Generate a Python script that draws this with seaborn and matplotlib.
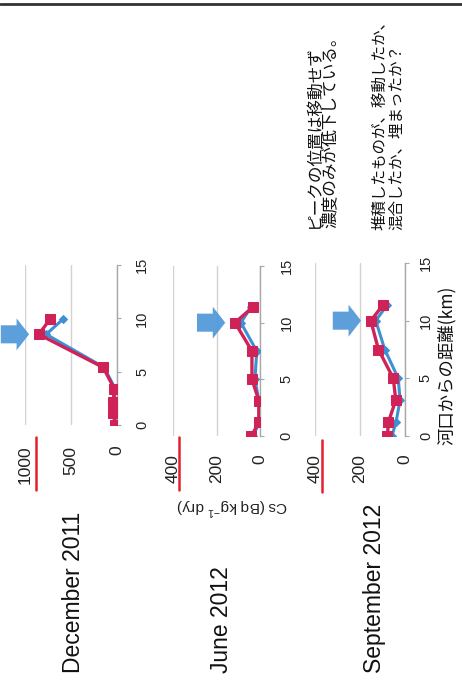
import matplotlib
matplotlib.use("Agg")
import matplotlib.pyplot as plt
import seaborn as sns
import pandas as pd
from matplotlib.lines import Line2D

# ---- data -------------------------------------------------------------
# distance from the river mouth (km) for each sampling station
dist_dec = [0.0, 1.1, 2.2, 3.4, 5.4, 8.5, 9.9]
dist_2012 = [0.0, 1.2, 3.1, 5.0, 7.5, 10.0, 11.4]

# radiocaesium in sediment, Cs (Bq/kg dry): two series per survey
dec_red = [20, 40, 40, 30, 150, 850, 730]
dec_blue = [10, 30, 30, 20, 140, 770, 590]
jun_red = [40, 5, 5, 37, 37, 115, 32]
jun_blue = [30, 5, 5, 23, 15, 88, 40]
sep_red = [78, 74, 41, 52, 118, 152, 96]
sep_blue = [58, 40, 22, 30, 90, 130, 78]

titles = ["December 2011", "June 2012", "September 2012"]
cs_ticks_dec = [0, 500, 1000]
cs_ticks_2012 = [0, 200, 400]
dist_ticks = [0, 5, 10, 15]

ylabel = "Cs (Bq kg$^{\\mathregular{-1}}$ dry)"
xlabel = "河口からの距離(km)"
note1 = ["ピークの位置は移動せず", "濃度のみが低下している。"]
note2 = ["堆積したものが、移動したか、", "混合したか、埋まったか？"]

# ---- style ------------------------------------------------------------
sns.set_style("white")
plt.rcParams["font.family"] = ["Liberation Sans", "Noto Sans CJK JP"]
CJK = ["Noto Sans CJK JP", "Liberation Sans"]

RED = "#cf2357"
BLUE = "#3f8fd4"
ARROW = "#4a95d8"
GRID = "#d2d2d2"
AXIS = "#a8a8a8"

W, H = 462, 684
fig = plt.figure(figsize=(W / 100, H / 100), dpi=100)
fig.patch.set_facecolor("white")


def fx(px):
    return px / W


def fy(py):
    return 1 - py / H


# panel boxes in pixels: left, right, top, bottom (page is laid out sideways)
boxes = [(25, 117, 265, 425), (173, 260, 266, 436), (315, 405, 263, 436)]
dist_pads = [10, 11, 7]
panels = [
    (dist_dec, dec_red, dec_blue, cs_ticks_dec),
    (dist_2012, jun_red, jun_blue, cs_ticks_2012),
    (dist_2012, sep_red, sep_blue, cs_ticks_2012),
]

axes = []
for (l, r, t, b), dpad, (dist, red, blue, cticks) in zip(boxes, dist_pads, panels):
    ax = fig.add_axes([fx(l), fy(b), fx(r) - fx(l), (b - t) / H])
    ax.set_facecolor("none")
    df = pd.DataFrame({"dist": dist, "red": red, "blue": blue})
    sns.lineplot(data=df, x="blue", y="dist", sort=False, estimator=None,
                 color=BLUE, lw=2.2, marker="D", markersize=4,
                 markeredgecolor=BLUE, ax=ax, zorder=3)
    sns.lineplot(data=df, x="red", y="dist", sort=False, estimator=None,
                 color=RED, lw=2.4, marker="s", markersize=7,
                 markeredgecolor=RED, ax=ax, zorder=4)
    ax.set_xlim(max(cticks), 0)
    ax.set_ylim(0, 15)
    ax.set_xticks(cticks)
    ax.set_yticks(dist_ticks)
    ax.set_xlabel("")
    ax.set_ylabel("")
    ax.grid(axis="x", color=GRID, lw=1.0)
    ax.grid(axis="y", visible=False)
    for s in ["top", "bottom", "left"]:
        ax.spines[s].set_visible(False)
    ax.spines["right"].set_color(AXIS)
    ax.spines["right"].set_linewidth(1.0)
    ax.yaxis.tick_right()
    ax.tick_params(axis="x", length=0, pad=15 if max(cticks) > 500 else 13,
                   labelsize=12.5, labelrotation=90, colors="#222222")
    ax.tick_params(axis="y", length=3, width=0.8, color=AXIS, pad=dpad,
                   labelsize=10.5, labelrotation=90, colors="#222222")
    for lab in ax.get_yticklabels():
        lab.set_va("center")

    # arrow pointing at the concentration peak
    k = red.index(max(red))
    ax.annotate("", xy=(red[k], dist[k]), xytext=(-38, 0),
                textcoords="offset pixels", annotation_clip=False,
                arrowprops=dict(arrowstyle="simple,head_length=0.9,head_width=2.3,tail_width=1.3",
                                mutation_scale=10, color=ARROW, alpha=0.9,
                                shrinkA=0, shrinkB=7, lw=0))
    axes.append(ax)

# red underline marks beside the top scale value
for xr, y0, y1 in [(36, 437, 490), (179, 437, 490), (322, 440, 492)]:
    fig.add_artist(Line2D([fx(xr), fx(xr)], [fy(y0), fy(y1)], color="#e3202c", lw=1.8))

# page rule along the top
fig.add_artist(Line2D([0, 1], [fy(4), fy(4)], color="#333333", lw=2.0))

# survey titles
for x, title in zip([74, 222, 375], titles):
    fig.text(fx(x), fy(673), title, rotation=90, ha="center", va="bottom",
             fontsize=16.5, color="#111111")

# shared value label (upside down on the sideways page)
fig.text(fx(232), fy(506), ylabel, rotation=180, ha="center", va="center",
         fontsize=11, color="#222222")

# distance axis title
fig.text(fx(447), fy(365), xlabel, rotation=90, ha="center", va="center",
         fontsize=12.5, family=CJK, color="#111111")

# notes
for x, line in zip([314, 331], note1):
    fig.text(fx(x), fy(228), line, rotation=90, ha="center", va="bottom",
             fontsize=12, family=CJK, color="#111111")
for x, line in zip([380, 397], note2):
    fig.text(fx(x), fy(230), line, rotation=90, ha="center", va="bottom",
             fontsize=11.2, family=CJK, color="#111111")

fig.savefig("out.png", dpi=100, facecolor="white")
